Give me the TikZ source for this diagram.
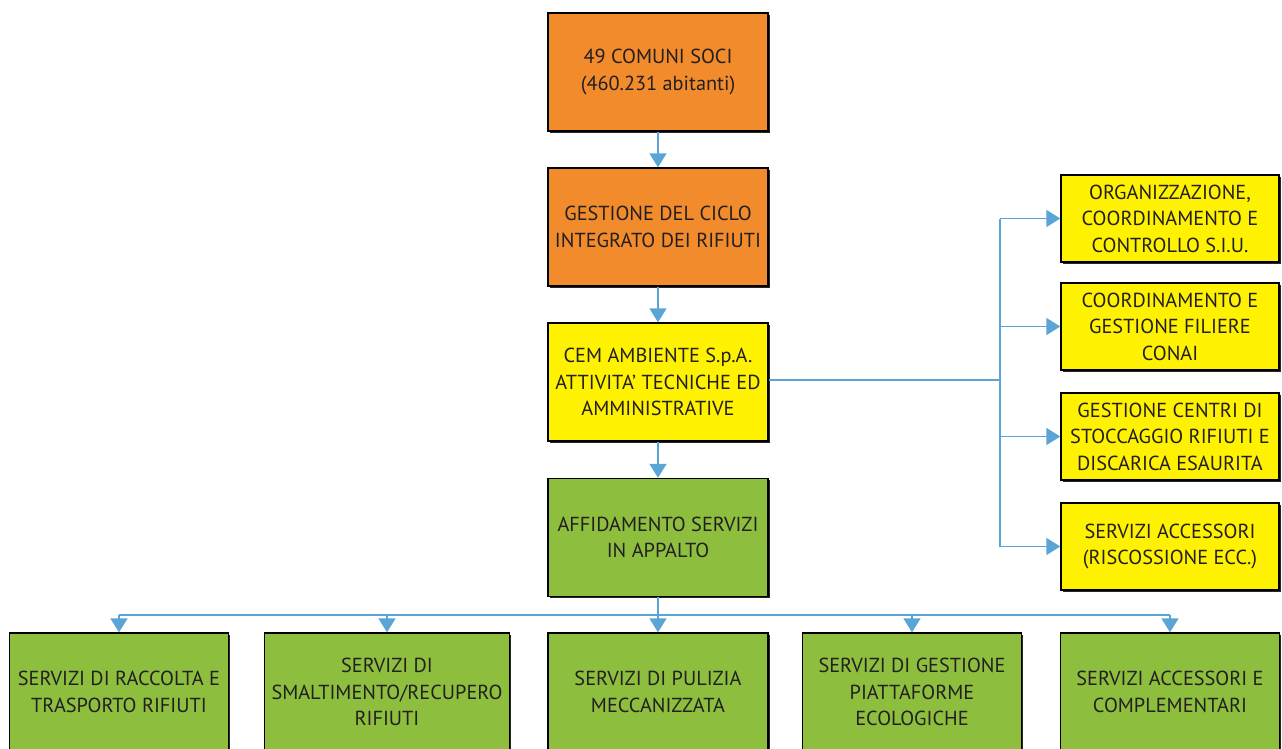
\documentclass[tikz,border=0pt]{standalone}
\usepackage{fontspec}
\setmainfont{PT Sans}
\usetikzlibrary{arrows.meta,shadows}
\definecolor{orangebox}{RGB}{241,139,44}
\definecolor{yellowbox}{RGB}{255,242,0}
\definecolor{greenbox}{RGB}{141,190,62}
\definecolor{linkblue}{RGB}{91,164,214}
\definecolor{inktext}{RGB}{35,31,32}
\begin{document}
\begin{tikzpicture}[
                x=1pt, y=-1pt,
                box/.style={rectangle, draw=black, line width=1.4pt, align=center,
                    text=inktext, inner sep=0pt, minimum height=118pt,
                    font=\fontsize{20.3}{26.5}\selectfont,
                    drop shadow={shadow xshift=1.6pt, shadow yshift=-1.6pt, fill=black!85, opacity=1}},
                mainbox/.style={box, minimum width=220pt},
                sidebox/.style={box, fill=yellowbox, minimum width=218pt, minimum height=87pt},
                servbox/.style={box, fill=greenbox, minimum width=#1},
                link/.style={draw=linkblue, line width=1.8pt},
                arrow/.style={link, -{Triangle[width=17pt, length=14pt]}},
            ]
            \useasboundingbox (0,0) rectangle (1282,749);
            % colonna centrale
            \node[mainbox, fill=orangebox] (comuni) at (658,72) {49 COMUNI SOCI\\(460.231 abitanti)};
            \node[mainbox, fill=orangebox] (ciclo) at (658,227) {GESTIONE DEL CICLO\\INTEGRATO DEI RIFIUTI};
            \node[mainbox, fill=yellowbox] (cem) at (658,382) {CEM AMBIENTE S.p.A.\\ATTIVITA' TECNICHE ED\\AMMINISTRATIVE};
            \node[mainbox, fill=greenbox] (appalto) at (658,537.5) {AFFIDAMENTO SERVIZI\\IN APPALTO};
            \draw[arrow] (comuni) -- (ciclo);
            \draw[arrow] (ciclo) -- (cem);
            \draw[arrow] (cem) -- (appalto);
            % attivita a destra
            \node[sidebox] (siu) at (1170,218.5) {ORGANIZZAZIONE,\\COORDINAMENTO E\\CONTROLLO S.I.U.};
            \node[sidebox] (conai) at (1170,326.5) {COORDINAMENTO E\\GESTIONE FILIERE\\CONAI};
            \node[sidebox] (stoccaggio) at (1170,436.5) {GESTIONE CENTRI DI\\STOCCAGGIO RIFIUTI E\\DISCARICA ESAURITA};
            \node[sidebox] (riscossione) at (1170,546.5) {SERVIZI ACCESSORI\\(RISCOSSIONE ECC.)};
            \coordinate (busdx) at (1000,380);
            \draw[link] (cem.east |- busdx) -- (busdx);
            \draw[link] (busdx |- siu.west) -- (busdx |- riscossione.west);
            \foreach \n in {siu, conai, stoccaggio, riscossione}
                \draw[arrow] (busdx |- \n.west) -- (\n.west);
            % servizi in appalto
            \node[servbox=219pt] (raccolta) at (119,692) {SERVIZI DI RACCOLTA E\\TRASPORTO RIFIUTI};
            \node[servbox=245pt] (smaltimento) at (387,692) {SERVIZI DI\\SMALTIMENTO/RECUPERO\\RIFIUTI};
            \node[servbox=220pt] (pulizia) at (658,692) {SERVIZI DI PULIZIA\\MECCANIZZATA};
            \node[servbox=219pt] (piattaforme) at (912,692) {SERVIZI DI GESTIONE\\PIATTAFORME\\ECOLOGICHE};
            \node[servbox=219pt] (complementari) at (1170,692) {SERVIZI ACCESSORI E\\COMPLEMENTARI};
            \coordinate (busgiu) at (658,615);
            \draw[link] (appalto) -- (busgiu);
            \draw[link] (busgiu -| raccolta.north) -- (busgiu -| complementari.north);
            \foreach \n in {raccolta, smaltimento, pulizia, piattaforme, complementari}
                \draw[arrow] (busgiu -| \n.north) -- (\n.north);
            \end{tikzpicture}
\end{document}
